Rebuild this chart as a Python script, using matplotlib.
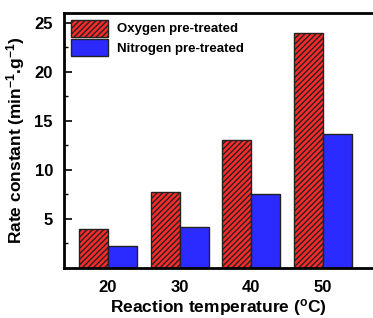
import numpy as np
import matplotlib.pyplot as plt
from matplotlib.ticker import MultipleLocator

plt.rcParams['font.family'] = ['Liberation Sans', 'DejaVu Sans']
plt.rcParams['font.weight'] = 'bold'
plt.rcParams['axes.labelweight'] = 'bold'
plt.rcParams['mathtext.fontset'] = 'custom'
plt.rcParams['mathtext.rm'] = 'Liberation Sans:bold'
plt.rcParams['mathtext.bf'] = 'Liberation Sans:bold'
plt.rcParams['mathtext.default'] = 'bf'
plt.rcParams['hatch.linewidth'] = 1.0

# donnees
temperatures = ['20', '30', '40', '50']
oxygen = [4.0, 7.7, 13.1, 24.0]
nitrogen = [2.2, 4.2, 7.5, 13.7]

x = np.arange(len(temperatures))
w = 0.405

fig = plt.figure(figsize=(3.73, 3.18), dpi=100)
ax = fig.add_axes([64/373, 50/318, (373-64)/373, 255/318])

ax.bar(x - w/2, oxygen, w, color='#ff2a2a', edgecolor='#222222', hatch='//////',
       lw=1.0, label='Oxygen pre-treated')
ax.bar(x + w/2, nitrogen, w, color='#2b2bff', edgecolor='#222222',
       lw=1.0, label='Nitrogen pre-treated')

ax.set_xlim(-0.614, 3.70)
ax.set_ylim(0, 26)
ax.set_xticks(x)
ax.set_xticklabels(temperatures)
ax.yaxis.set_major_locator(MultipleLocator(5))
ax.yaxis.set_minor_locator(MultipleLocator(2.5))
ax.set_yticks([5, 10, 15, 20, 25])
ax.tick_params(axis='y', which='major', direction='in', length=6, width=1.2, labelsize=12, pad=8)
ax.tick_params(axis='y', which='minor', direction='in', length=3, width=1.0)
ax.tick_params(axis='x', length=0, labelsize=12, pad=9)
for s in ['left', 'top', 'bottom']:
    ax.spines[s].set_linewidth(2)
ax.spines['right'].set_visible(False)

ax.set_xlabel(r'Reaction temperature ($^{\mathbf{o}}$C)', fontsize=12.5, labelpad=1)
ax.set_ylabel(r'Rate constant (min$^{\mathbf{-1}}$.g$^{\mathbf{-1}}$)', fontsize=12.5, labelpad=5)

ax.legend(loc='upper left', frameon=False, fontsize=9.5, handlelength=2.8, handleheight=1.6,
          borderaxespad=0.2, labelspacing=0.2, handletextpad=0.7, borderpad=0.3)

plt.savefig('out.png', dpi=100)
